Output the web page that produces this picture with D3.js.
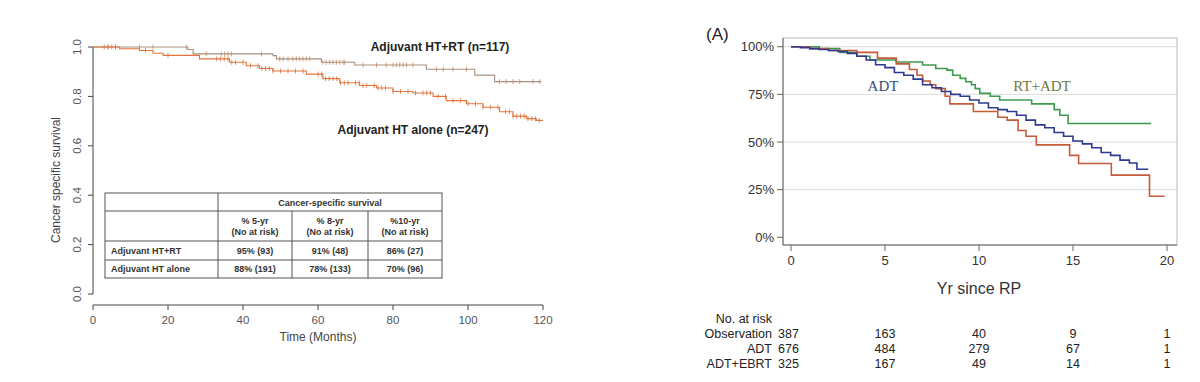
<!DOCTYPE html>
<html>
<head>
<meta charset="utf-8">
<script src="https://cdn.jsdelivr.net/npm/d3@7"></script>
<style>
  body { margin: 0; background: #fff; }
  svg { font-family: "Liberation Sans", Arial, sans-serif; }
</style>
</head>
<body>
<svg width="1200" height="382"></svg>
<script>
// ---- left panel data (months, survival) ----
var htRt = [[0,1],[25.3,0.99],[26.7,0.972],[48,0.965],[48.9,0.952],[60.9,0.938],[69.8,0.927],[88.9,0.91],[101.8,0.886],[107.1,0.86],[119.6,0.86]];
var htAlone = [[0,1],[7.1,0.993],[12.4,0.986],[16,0.975],[18.7,0.966],[28.4,0.952],[36.4,0.938],[40.9,0.924],[44.4,0.913],[48,0.903],[56.9,0.89],[61.3,0.872],[65.8,0.855],[71.1,0.844],[75.6,0.834],[80,0.82],[85.3,0.814],[90.7,0.8],[94.2,0.783],[99.6,0.77],[104,0.756],[108.4,0.738],[112,0.72],[115.6,0.71],[118.2,0.703],[120,0.703]];
var htRtCensor = [4,6,12.4,16,24.9,30.2,34.2,35.1,36,36.9,44.9,49.8,50.7,52,53.3,54.2,55.1,56,56.9,57.8,61.3,62.2,63.1,64,64.9,65.8,66.7,67.1,72,75.6,78.2,80,80.9,81.8,82.7,83.6,85.3,91.6,93.4,96,99.6,108.4,110.2,112,113.8,117.3,119.1];
var htAloneCensor = [3,4,5,6,14,20,33,34,35,36,37,38,40,42,44,45,46,47,48,50,52,54,56,60,61,62,63,64,65,66,67,68,70,71,72,73,75,76,77,78,80,82,84,86,88,89,90,92,94,96,98,100,102,104,106,108,110,111,112,113,114,115,116,117,118,119];
var leftXTicks = [0,20,40,60,80,100,120];
var leftYTicks = [0,0.2,0.4,0.6,0.8,1.0];
var tableHead = ["% 5-yr", "% 8-yr", "%10-yr"];
var tableRows = ["Adjuvant HT+RT", "Adjuvant HT alone"];
var tableVals = [["95% (93)","91% (48)","86% (27)"],["88% (191)","78% (133)","70% (96)"]];

// ---- right panel data (years, survival) ----
var obs = [[0,1],[1,0.99],[2,0.98],[3.5,0.97],[4.6,0.94],[5.6,0.91],[6.3,0.88],[6.7,0.85],[7,0.82],[7.4,0.8],[7.7,0.78],[8.2,0.74],[8.45,0.7],[9.7,0.66],[11,0.63],[11.5,0.615],[12.08,0.56],[12.5,0.53],[13.05,0.485],[14.82,0.43],[15.3,0.387],[17.04,0.326],[19.07,0.215],[19.87,0.215]];
var adt = [[0,1],[0.5,0.995],[1,0.99],[1.5,0.985],[2,0.98],[2.5,0.975],[3,0.965],[3.5,0.95],[4,0.93],[4.5,0.905],[5,0.89],[5.5,0.865],[6,0.85],[6.5,0.83],[7,0.8],[7.5,0.785],[8,0.765],[8.5,0.75],[9,0.74],[9.5,0.72],[10,0.705],[10.5,0.68],[11,0.67],[11.5,0.66],[12,0.64],[12.5,0.615],[13,0.59],[13.5,0.575],[14,0.55],[14.5,0.53],[15,0.505],[15.5,0.49],[16,0.47],[16.5,0.445],[17,0.43],[17.5,0.405],[18,0.39],[18.4,0.357],[19,0.357]];
var rtAdt = [[0,1],[1.5,0.99],[2.6,0.97],[3.5,0.95],[4.2,0.93],[5.6,0.92],[7,0.904],[7.7,0.886],[8.3,0.877],[8.6,0.85],[9,0.834],[9.3,0.816],[9.6,0.8],[9.8,0.78],[10.04,0.755],[10.6,0.74],[11.1,0.72],[12.8,0.7],[14,0.67],[14.3,0.64],[14.74,0.597],[19.16,0.597]];
var rightXTicks = [0,5,10,15,20];
var rightYTicks = [0,0.25,0.5,0.75,1];
var riskGroups = ["Observation","ADT","ADT+EBRT"];
var riskCounts = [[387,163,40,9,1],[676,484,279,67,1],[325,167,49,14,1]];

var svg = d3.select("svg");

// ================= LEFT PANEL =================
var xL = d3.scaleLinear().domain([0,120]).range([93,543]),
    yL = d3.scaleLinear().domain([0,1]).range([294,47]);

var gL = svg.append("g");

// y axis (R style)
gL.append("line").attr("x1",93).attr("x2",93).attr("y1",yL(0)).attr("y2",yL(1)).attr("stroke","#444");
leftYTicks.forEach(function(t){
  gL.append("line").attr("x1",88).attr("x2",93).attr("y1",yL(t)).attr("y2",yL(t)).attr("stroke","#444");
  gL.append("text").attr("transform","translate(81," + yL(t) + ") rotate(-90)")
    .attr("text-anchor","middle").style("font-size","11.5px").attr("fill","#555").text(t.toFixed(1));
});
// x axis
gL.append("line").attr("x1",xL(0)).attr("x2",xL(120)).attr("y1",305).attr("y2",305).attr("stroke","#444");
leftXTicks.forEach(function(t){
  gL.append("line").attr("x1",xL(t)).attr("x2",xL(t)).attr("y1",305).attr("y2",310).attr("stroke","#444");
  gL.append("text").attr("x",xL(t)).attr("y",324).attr("text-anchor","middle")
    .style("font-size","11.5px").attr("fill","#555").text(t);
});
gL.append("text").attr("x",xL(60)).attr("y",341).attr("text-anchor","middle")
  .style("font-size","12px").attr("fill","#444").text("Time (Months)");
gL.append("text").attr("transform","translate(60,180) rotate(-90)")
  .attr("text-anchor","middle").style("font-size","12px").attr("fill","#444").text("Cancer specific survival");

var lineL = d3.line().curve(d3.curveStepAfter)
  .x(function(d){ return xL(d[0]); }).y(function(d){ return yL(d[1]); });

function survAt(data, t) {
  var s = data[0][1];
  data.forEach(function(d){ if (d[0] <= t) s = d[1]; });
  return s;
}

function drawKM(data, censor, lineCol, tickCol) {
  gL.append("path").datum(data).attr("d", lineL).attr("fill","none")
    .attr("stroke", lineCol).attr("stroke-width", 1.1);
  gL.selectAll(null).data(censor).enter().append("line")
    .attr("x1", function(d){ return xL(d); }).attr("x2", function(d){ return xL(d); })
    .attr("y1", function(d){ return yL(survAt(data,d)) - 2.5; })
    .attr("y2", function(d){ return yL(survAt(data,d)) + 2.5; })
    .attr("stroke", tickCol).attr("stroke-width", 0.9).attr("opacity", 0.85);
}
drawKM(htRt, htRtCensor, "#a8907f", "#c9845c");
drawKM(htAlone, htAloneCensor, "#e8743a", "#d8703c");

gL.append("text").attr("x",440).attr("y",51).attr("text-anchor","middle")
  .style("font-size","12px").style("font-weight","bold").attr("fill","#222").text("Adjuvant HT+RT (n=117)");
gL.append("text").attr("x",413).attr("y",134).attr("text-anchor","middle")
  .style("font-size","12px").style("font-weight","bold").attr("fill","#222").text("Adjuvant HT alone (n=247)");

// table
var tb = gL.append("g").style("font-size","9px").style("font-weight","bold").attr("fill","#333");
var colX = [105,218,292,368,442], rowY = [193,211,241,260,278];
tb.append("rect").attr("x",105).attr("y",193).attr("width",337).attr("height",85)
  .attr("fill","#fff").attr("stroke","#555");
rowY.slice(1,4).forEach(function(y){
  tb.append("line").attr("x1",105).attr("x2",442).attr("y1",y).attr("y2",y).attr("stroke","#555");
});
tb.append("line").attr("x1",218).attr("x2",218).attr("y1",193).attr("y2",278).attr("stroke","#555");
[292,368].forEach(function(x){
  tb.append("line").attr("x1",x).attr("x2",x).attr("y1",211).attr("y2",278).attr("stroke","#555");
});
tb.append("text").attr("x",330).attr("y",206).attr("text-anchor","middle").text("Cancer-specific survival");
tableHead.forEach(function(h,i){
  var cx = (colX[i+1]+colX[i+2])/2;
  tb.append("text").attr("x",cx).attr("y",224).attr("text-anchor","middle").text(h);
  tb.append("text").attr("x",cx).attr("y",235).attr("text-anchor","middle").text("(No at risk)");
});
tableRows.forEach(function(r,j){
  var y = (rowY[j+2]+rowY[j+3])/2 + 3;
  tb.append("text").attr("x",111).attr("y",y).text(r);
  tableVals[j].forEach(function(v,i){
    tb.append("text").attr("x",(colX[i+1]+colX[i+2])/2).attr("y",y).attr("text-anchor","middle").text(v);
  });
});

// ================= RIGHT PANEL =================
var xR = d3.scaleLinear().domain([0,20]).range([791,1167]),
    yR = d3.scaleLinear().domain([0,1]).range([237.3,46.7]);
var gR = svg.append("g");

gR.append("text").attr("x",706).attr("y",40).style("font-size","17px").attr("fill","#222").text("(A)");

// grid
rightYTicks.forEach(function(t){
  if (t > 0) gR.append("line").attr("x1",783).attr("x2",1177).attr("y1",yR(t)).attr("y2",yR(t))
    .attr("stroke","#dcdcdc");
});
// box
gR.append("rect").attr("x",783).attr("y",38).attr("width",394).attr("height",207)
  .attr("fill","none").attr("stroke","#b8b8b8");
gR.append("line").attr("x1",783).attr("x2",783).attr("y1",38).attr("y2",245).attr("stroke","#666");
gR.append("line").attr("x1",783).attr("x2",1177).attr("y1",245).attr("y2",245).attr("stroke","#666");

rightYTicks.forEach(function(t){
  gR.append("line").attr("x1",777).attr("x2",783).attr("y1",yR(t)).attr("y2",yR(t)).attr("stroke","#666");
  gR.append("text").attr("x",774).attr("y",yR(t)+4.5).attr("text-anchor","end")
    .style("font-size","13px").attr("fill","#333").text(d3.format(".0%")(t));
});
rightXTicks.forEach(function(t){
  gR.append("line").attr("x1",xR(t)).attr("x2",xR(t)).attr("y1",245).attr("y2",251).attr("stroke","#666");
  gR.append("text").attr("x",xR(t)).attr("y",265).attr("text-anchor","middle")
    .style("font-size","13px").attr("fill","#333").text(t);
});
gR.append("text").attr("x",xR(10)).attr("y",294).attr("text-anchor","middle")
  .style("font-size","16px").attr("fill","#333").text("Yr since RP");

var lineR = d3.line().curve(d3.curveStepAfter)
  .x(function(d){ return xR(d[0]); }).y(function(d){ return yR(d[1]); });
[[rtAdt,"#3e9a4c"],[obs,"#c65a3a"],[adt,"#2d3a90"]].forEach(function(s){
  gR.append("path").datum(s[0]).attr("d", lineR).attr("fill","none")
    .attr("stroke", s[1]).attr("stroke-width", 1.6);
});

gR.append("text").attr("x",883).attr("y",91).attr("text-anchor","middle")
  .style("font-family","'Liberation Serif', serif").style("font-size","15px").attr("fill","#3d4a82").text("ADT");
gR.append("text").attr("x",1042).attr("y",91).attr("text-anchor","middle")
  .style("font-family","'Liberation Serif', serif").style("font-size","15px").attr("fill","#6e7a3e").text("RT+ADT");

// number at risk
var rk = gR.append("g").style("font-size","12.5px").attr("fill","#222");
rk.append("text").attr("x",772).attr("y",323).attr("text-anchor","end").text("No. at risk");
riskGroups.forEach(function(gname,j){
  var y = 338 + j*15;
  rk.append("text").attr("x",772).attr("y",y).attr("text-anchor","end").text(gname);
  riskCounts[j].forEach(function(c,i){
    rk.append("text").attr("x", i === 0 ? 778 : xR(rightXTicks[i])).attr("y",y)
      .attr("text-anchor", i === 0 ? "start" : "middle").text(c);
  });
});
</script>
</body>
</html>
